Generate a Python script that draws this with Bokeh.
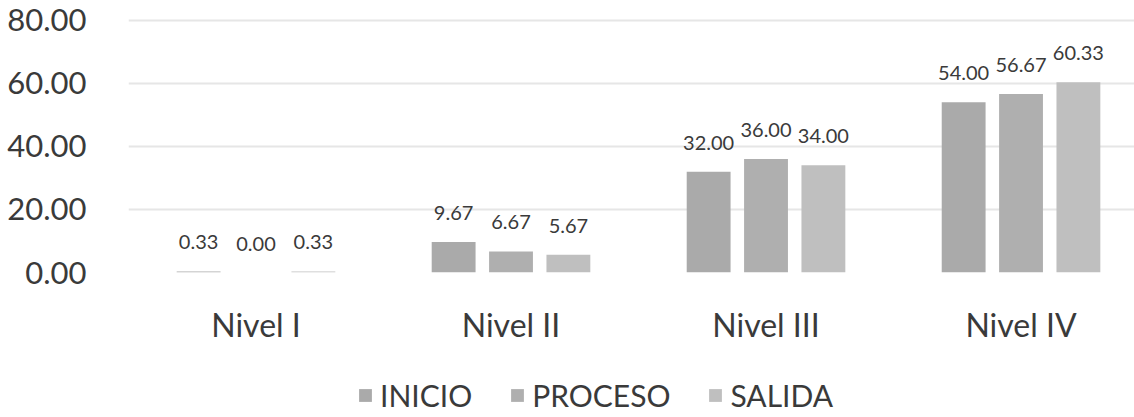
from bokeh.plotting import figure
from bokeh.layouts import column
from bokeh.models import (ColumnDataSource, Range1d, FixedTicker, NumeralTickFormatter,
                          LabelSet, Legend, LegendItem)
from bokeh.core.properties import value
from bokeh.embed import file_html
from bokeh.resources import INLINE

categories = ["Nivel I", "Nivel II", "Nivel III", "Nivel IV"]
series = ["INICIO", "PROCESO", "SALIDA"]
inicio = [0.33, 9.67, 32.00, 54.00]
proceso = [0.00, 6.67, 36.00, 56.67]
salida = [0.33, 5.67, 34.00, 60.33]
y_ticks = [0, 20, 40, 60, 80]

colors = ["#aaaaaa", "#afafaf", "#bfbfbf"]
offsets = [-0.225, 0.0, 0.225]
values = [inicio, proceso, salida]

FONT = "Lato"
TXT = "#3a3a3a"

p = figure(width=1134, height=365, output_backend="svg", toolbar_location=None,
           x_range=Range1d(-0.5, 3.445), y_range=Range1d(0, 82.5),
           min_border_left=128, min_border_right=0, min_border_top=12,
           min_border_bottom=93)
p.outline_line_color = None
p.background_fill_color = "white"
p.border_fill_color = "white"

# legend strip (its own small figure under the chart)
q = figure(width=1134, height=52, output_backend="svg", toolbar_location=None,
           x_range=Range1d(100, 101), y_range=Range1d(100, 101),
           x_axis_location=None, y_axis_location=None,
           min_border_left=0, min_border_right=0, min_border_top=0, min_border_bottom=0)
q.outline_line_color = None
q.grid.grid_line_color = None

leg_renderers = []
for name, vals, off, col in zip(series, values, offsets, colors):
    xs = [i + off for i in range(len(categories))]
    src = ColumnDataSource(dict(x=xs, y=vals, lab=["%.2f" % v for v in vals]))
    p.vbar(x="x", top="y", width=0.172, source=src, fill_color=col, line_color=None)
    p.add_layout(LabelSet(x="x", y="y", text="lab", source=src, text_align="center",
                          text_baseline="bottom", y_offset=22, text_font=value(FONT),
                          text_font_size="20px", text_color=TXT))
    # same data in the legend strip, outside its visible range: only the legend swatch shows
    leg_renderers.append(q.vbar(x="x", top="y", width=0.172, source=src,
                                fill_color=col, line_color=None))

# axes
p.xaxis.ticker = FixedTicker(ticks=list(range(len(categories))))
p.xaxis.major_label_overrides = {i: c for i, c in enumerate(categories)}
p.xaxis.axis_line_color = None
p.xaxis.major_tick_line_color = None
p.xaxis.minor_tick_line_color = None
p.xaxis.major_label_standoff = 26
p.xaxis.major_label_text_font = FONT
p.xaxis.major_label_text_font_size = "32px"
p.xaxis.major_label_text_color = TXT

p.yaxis.ticker = FixedTicker(ticks=y_ticks)
p.yaxis.formatter = NumeralTickFormatter(format="0.00")
p.yaxis.axis_line_color = None
p.yaxis.major_tick_line_color = None
p.yaxis.minor_tick_line_color = None
p.yaxis.major_label_standoff = 36
p.yaxis.major_label_text_font = FONT
p.yaxis.major_label_text_font_size = "31px"
p.yaxis.major_label_text_color = TXT

p.xgrid.grid_line_color = None
p.ygrid.grid_line_color = "#e6e6e6"
p.ygrid.grid_line_width = 2

legend = Legend(items=[LegendItem(label=s, renderers=[r]) for s, r in zip(series, leg_renderers)],
                orientation="horizontal", location=(229, 4),
                padding=0, margin=0, spacing=37, label_standoff=7,
                glyph_width=16, glyph_height=16,
                label_text_font=FONT, label_text_font_size="30px",
                label_text_color=TXT, border_line_color=None,
                background_fill_alpha=0)
q.add_layout(legend, "center")

layout = column(p, q, spacing=0)
open("out.html", "w").write(file_html(layout, INLINE))
